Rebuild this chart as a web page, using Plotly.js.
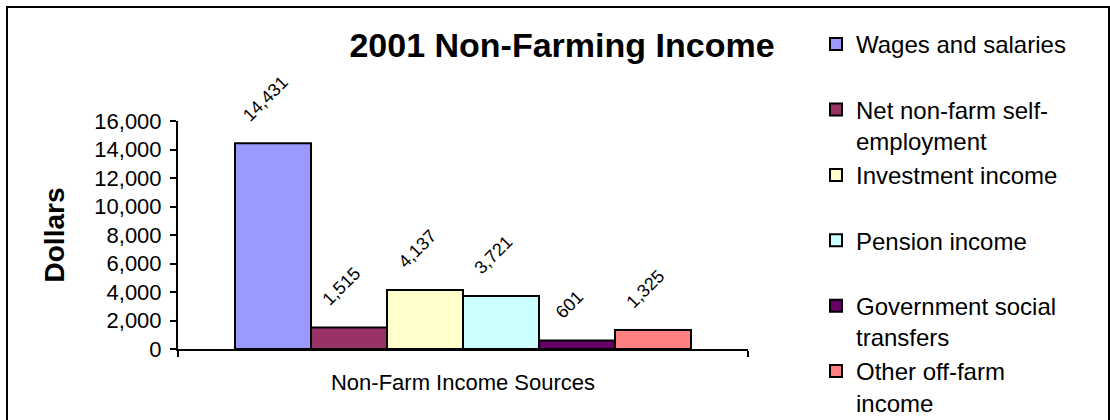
<!DOCTYPE html>
<html>
<head>
<meta charset="utf-8">
<script src="https://cdn.plot.ly/plotly-3.0.1.min.js"></script>
<style>
  html, body { margin: 0; padding: 0; background: #ffffff; }
  #wrap { position: relative; width: 1110px; height: 420px; overflow: hidden; }
  #chart { position: absolute; left: 0; top: 0; width: 1110px; height: 420px; }
  #frame { position: absolute; left: 6px; top: 6px; width: 1104px; height: 500px;
           box-sizing: border-box; border: 2px solid #000; pointer-events: none; }
</style>
</head>
<body>
<div id="wrap">
  <div id="chart"></div>
  <div id="frame"></div>
</div>
<script>
const category = "Non-Farm Income Sources";
const seriesNames = [
  "Wages and salaries",
  "Net non-farm self-<br>employment",
  "Investment income",
  "Pension income",
  "Government social<br>transfers",
  "Other off-farm<br>income"
];
const seriesValues = [14431, 1515, 4137, 3721, 601, 1325];
const seriesColors = ["#9999FF", "#993366", "#FFFFCC", "#CCFFFF", "#660066", "#FF8080"];
const yTickValues = [0, 2000, 4000, 6000, 8000, 10000, 12000, 14000, 16000];

const FONT = "Liberation Sans, Arial, Helvetica, sans-serif";

const traces = seriesNames.map((name, i) => ({
  type: "bar",
  name: name.indexOf("<br>") >= 0 ? name : name + "<br>\u00a0",
  x: [category],
  y: [seriesValues[i]],
  marker: { color: seriesColors[i], line: { color: "#000000", width: 2 } },
  texttemplate: "%{y:,}<br><span style='font-size:9px'>\u00a0</span>",
  textposition: "outside",
  textangle: -45,
  constraintext: "none",
  cliponaxis: false,
  textfont: { family: FONT, size: 18, color: "#000000" },
  hoverinfo: "skip"
}));

const layout = {
  width: 1110,
  height: 420,
  margin: { l: 178, r: 362, t: 121, b: 71, pad: 0 },
  paper_bgcolor: "rgba(0,0,0,0)",
  plot_bgcolor: "rgba(0,0,0,0)",
  font: { family: FONT, color: "#000000" },
  barmode: "group",
  bargap: 0.2,
  bargroupgap: 0,
  showlegend: true,
  title: {
    text: "<b>2001 Non-Farming Income</b>",
    font: { family: FONT, size: 34, color: "#000000" },
    xref: "container", yref: "container",
    x: 562 / 1110, xanchor: "center",
    y: 1 - 45 / 420, yanchor: "middle"
  },
  xaxis: {
    type: "category",
    showgrid: false,
    zeroline: false,
    showline: true,
    linecolor: "#000000",
    linewidth: 2,
    ticks: "outside",
    tickson: "boundaries",
    ticklen: 6,
    tickwidth: 2,
    tickcolor: "#000000",
    tickfont: { family: FONT, size: 22, color: "#000000" },
    ticklabelstandoff: 13,
    fixedrange: true
  },
  yaxis: {
    range: [0, 16000],
    tickvals: yTickValues,
    tickformat: ",d",
    showgrid: false,
    zeroline: false,
    showline: true,
    linecolor: "#000000",
    linewidth: 2,
    ticks: "outside",
    ticklen: 6,
    tickwidth: 2,
    tickcolor: "#000000",
    tickfont: { family: FONT, size: 22, color: "#000000" },
    ticklabelstandoff: 4,
    title: {
      text: "<b>Dollars</b>",
      font: { family: FONT, size: 28, color: "#000000" },
      standoff: 22
    },
    automargin: false,
    fixedrange: true
  },
  legend: {
    xref: "container", yref: "container",
    x: 816 / 1110, xanchor: "left",
    y: 1 - 22 / 420, yanchor: "top",
    font: { family: FONT, size: 24, color: "#000000" },
    valign: "top",
    traceorder: "normal",
    bgcolor: "rgba(0,0,0,0)",
    borderwidth: 0,
    tracegroupgap: 0,
    maxheight: 1
  }
};

Plotly.newPlot("chart", traces, layout, { staticPlot: true, displayModeBar: false });
</script>
</body>
</html>
